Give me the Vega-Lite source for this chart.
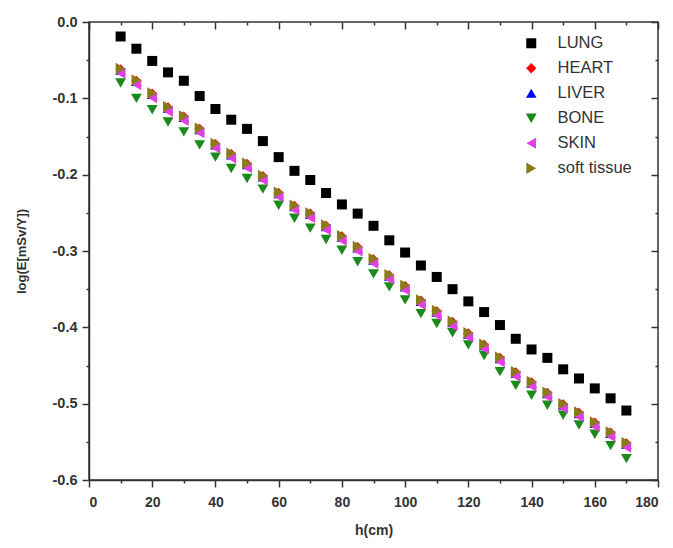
{
  "$schema": "https://vega.github.io/schema/vega-lite/v6.json",
  "autosize": "none",
  "width": 569,
  "height": 458,
  "padding": {"left": 89, "top": 22, "right": 15, "bottom": 68},
  "background": "white",
  "config": {
    "view": {"stroke": "#333", "strokeWidth": 1.5},
    "axis": {"labelFont": "Liberation Sans", "titleFont": "Liberation Sans", "labelFontWeight": "bold", "titleFontWeight": "bold", "labelColor": "#333", "titleColor": "#333", "domainColor": "#333", "tickColor": "#333", "grid": false}
  },
  "data": {"values": [
    {"h":10,"organ":"LUNG","v":-0.019},{"h":15,"organ":"LUNG","v":-0.035},{"h":20,"organ":"LUNG","v":-0.051},{"h":25,"organ":"LUNG","v":-0.066},{"h":30,"organ":"LUNG","v":-0.077},{"h":35,"organ":"LUNG","v":-0.097},{"h":40,"organ":"LUNG","v":-0.114},{"h":45,"organ":"LUNG","v":-0.128},{"h":50,"organ":"LUNG","v":-0.140},{"h":55,"organ":"LUNG","v":-0.156},{"h":60,"organ":"LUNG","v":-0.177},{"h":65,"organ":"LUNG","v":-0.195},{"h":70,"organ":"LUNG","v":-0.207},{"h":75,"organ":"LUNG","v":-0.224},{"h":80,"organ":"LUNG","v":-0.239},{"h":85,"organ":"LUNG","v":-0.251},{"h":90,"organ":"LUNG","v":-0.267},{"h":95,"organ":"LUNG","v":-0.286},{"h":100,"organ":"LUNG","v":-0.302},{"h":105,"organ":"LUNG","v":-0.319},{"h":110,"organ":"LUNG","v":-0.334},{"h":115,"organ":"LUNG","v":-0.350},{"h":120,"organ":"LUNG","v":-0.366},{"h":125,"organ":"LUNG","v":-0.380},{"h":130,"organ":"LUNG","v":-0.397},{"h":135,"organ":"LUNG","v":-0.415},{"h":140,"organ":"LUNG","v":-0.429},{"h":145,"organ":"LUNG","v":-0.440},{"h":150,"organ":"LUNG","v":-0.455},{"h":155,"organ":"LUNG","v":-0.467},{"h":160,"organ":"LUNG","v":-0.480},{"h":165,"organ":"LUNG","v":-0.493},{"h":170,"organ":"LUNG","v":-0.509},
    {"h":10,"organ":"HEART","v":-0.062},{"h":15,"organ":"HEART","v":-0.077},{"h":20,"organ":"HEART","v":-0.094},{"h":25,"organ":"HEART","v":-0.112},{"h":30,"organ":"HEART","v":-0.124},{"h":35,"organ":"HEART","v":-0.140},{"h":40,"organ":"HEART","v":-0.160},{"h":45,"organ":"HEART","v":-0.173},{"h":50,"organ":"HEART","v":-0.186},{"h":55,"organ":"HEART","v":-0.202},{"h":60,"organ":"HEART","v":-0.224},{"h":65,"organ":"HEART","v":-0.241},{"h":70,"organ":"HEART","v":-0.251},{"h":75,"organ":"HEART","v":-0.267},{"h":80,"organ":"HEART","v":-0.281},{"h":85,"organ":"HEART","v":-0.295},{"h":90,"organ":"HEART","v":-0.311},{"h":95,"organ":"HEART","v":-0.332},{"h":100,"organ":"HEART","v":-0.346},{"h":105,"organ":"HEART","v":-0.365},{"h":110,"organ":"HEART","v":-0.379},{"h":115,"organ":"HEART","v":-0.393},{"h":120,"organ":"HEART","v":-0.408},{"h":125,"organ":"HEART","v":-0.423},{"h":130,"organ":"HEART","v":-0.440},{"h":135,"organ":"HEART","v":-0.459},{"h":140,"organ":"HEART","v":-0.472},{"h":145,"organ":"HEART","v":-0.486},{"h":150,"organ":"HEART","v":-0.501},{"h":155,"organ":"HEART","v":-0.512},{"h":160,"organ":"HEART","v":-0.525},{"h":165,"organ":"HEART","v":-0.538},{"h":170,"organ":"HEART","v":-0.552},
    {"h":10,"organ":"LIVER","v":-0.063},{"h":15,"organ":"LIVER","v":-0.078},{"h":20,"organ":"LIVER","v":-0.095},{"h":25,"organ":"LIVER","v":-0.113},{"h":30,"organ":"LIVER","v":-0.125},{"h":35,"organ":"LIVER","v":-0.141},{"h":40,"organ":"LIVER","v":-0.161},{"h":45,"organ":"LIVER","v":-0.174},{"h":50,"organ":"LIVER","v":-0.187},{"h":55,"organ":"LIVER","v":-0.203},{"h":60,"organ":"LIVER","v":-0.225},{"h":65,"organ":"LIVER","v":-0.242},{"h":70,"organ":"LIVER","v":-0.252},{"h":75,"organ":"LIVER","v":-0.268},{"h":80,"organ":"LIVER","v":-0.282},{"h":85,"organ":"LIVER","v":-0.296},{"h":90,"organ":"LIVER","v":-0.312},{"h":95,"organ":"LIVER","v":-0.333},{"h":100,"organ":"LIVER","v":-0.347},{"h":105,"organ":"LIVER","v":-0.366},{"h":110,"organ":"LIVER","v":-0.380},{"h":115,"organ":"LIVER","v":-0.394},{"h":120,"organ":"LIVER","v":-0.409},{"h":125,"organ":"LIVER","v":-0.424},{"h":130,"organ":"LIVER","v":-0.441},{"h":135,"organ":"LIVER","v":-0.460},{"h":140,"organ":"LIVER","v":-0.473},{"h":145,"organ":"LIVER","v":-0.487},{"h":150,"organ":"LIVER","v":-0.502},{"h":155,"organ":"LIVER","v":-0.513},{"h":160,"organ":"LIVER","v":-0.526},{"h":165,"organ":"LIVER","v":-0.539},{"h":170,"organ":"LIVER","v":-0.553},
    {"h":10,"organ":"BONE","v":-0.080},{"h":15,"organ":"BONE","v":-0.100},{"h":20,"organ":"BONE","v":-0.115},{"h":25,"organ":"BONE","v":-0.131},{"h":30,"organ":"BONE","v":-0.144},{"h":35,"organ":"BONE","v":-0.161},{"h":40,"organ":"BONE","v":-0.177},{"h":45,"organ":"BONE","v":-0.192},{"h":50,"organ":"BONE","v":-0.205},{"h":55,"organ":"BONE","v":-0.219},{"h":60,"organ":"BONE","v":-0.240},{"h":65,"organ":"BONE","v":-0.257},{"h":70,"organ":"BONE","v":-0.270},{"h":75,"organ":"BONE","v":-0.285},{"h":80,"organ":"BONE","v":-0.299},{"h":85,"organ":"BONE","v":-0.314},{"h":90,"organ":"BONE","v":-0.330},{"h":95,"organ":"BONE","v":-0.347},{"h":100,"organ":"BONE","v":-0.364},{"h":105,"organ":"BONE","v":-0.382},{"h":110,"organ":"BONE","v":-0.395},{"h":115,"organ":"BONE","v":-0.407},{"h":120,"organ":"BONE","v":-0.423},{"h":125,"organ":"BONE","v":-0.437},{"h":130,"organ":"BONE","v":-0.458},{"h":135,"organ":"BONE","v":-0.476},{"h":140,"organ":"BONE","v":-0.489},{"h":145,"organ":"BONE","v":-0.502},{"h":150,"organ":"BONE","v":-0.515},{"h":155,"organ":"BONE","v":-0.528},{"h":160,"organ":"BONE","v":-0.540},{"h":165,"organ":"BONE","v":-0.555},{"h":170,"organ":"BONE","v":-0.572},
    {"h":10,"organ":"SKIN","v":-0.067},{"h":15,"organ":"SKIN","v":-0.082},{"h":20,"organ":"SKIN","v":-0.099},{"h":25,"organ":"SKIN","v":-0.117},{"h":30,"organ":"SKIN","v":-0.129},{"h":35,"organ":"SKIN","v":-0.145},{"h":40,"organ":"SKIN","v":-0.165},{"h":45,"organ":"SKIN","v":-0.178},{"h":50,"organ":"SKIN","v":-0.191},{"h":55,"organ":"SKIN","v":-0.207},{"h":60,"organ":"SKIN","v":-0.229},{"h":65,"organ":"SKIN","v":-0.246},{"h":70,"organ":"SKIN","v":-0.256},{"h":75,"organ":"SKIN","v":-0.272},{"h":80,"organ":"SKIN","v":-0.286},{"h":85,"organ":"SKIN","v":-0.300},{"h":90,"organ":"SKIN","v":-0.316},{"h":95,"organ":"SKIN","v":-0.337},{"h":100,"organ":"SKIN","v":-0.351},{"h":105,"organ":"SKIN","v":-0.370},{"h":110,"organ":"SKIN","v":-0.384},{"h":115,"organ":"SKIN","v":-0.398},{"h":120,"organ":"SKIN","v":-0.413},{"h":125,"organ":"SKIN","v":-0.428},{"h":130,"organ":"SKIN","v":-0.445},{"h":135,"organ":"SKIN","v":-0.464},{"h":140,"organ":"SKIN","v":-0.477},{"h":145,"organ":"SKIN","v":-0.491},{"h":150,"organ":"SKIN","v":-0.506},{"h":155,"organ":"SKIN","v":-0.517},{"h":160,"organ":"SKIN","v":-0.530},{"h":165,"organ":"SKIN","v":-0.543},{"h":170,"organ":"SKIN","v":-0.557},
    {"h":10,"organ":"soft tissue","v":-0.061},{"h":15,"organ":"soft tissue","v":-0.076},{"h":20,"organ":"soft tissue","v":-0.093},{"h":25,"organ":"soft tissue","v":-0.111},{"h":30,"organ":"soft tissue","v":-0.123},{"h":35,"organ":"soft tissue","v":-0.139},{"h":40,"organ":"soft tissue","v":-0.159},{"h":45,"organ":"soft tissue","v":-0.172},{"h":50,"organ":"soft tissue","v":-0.185},{"h":55,"organ":"soft tissue","v":-0.201},{"h":60,"organ":"soft tissue","v":-0.223},{"h":65,"organ":"soft tissue","v":-0.240},{"h":70,"organ":"soft tissue","v":-0.250},{"h":75,"organ":"soft tissue","v":-0.266},{"h":80,"organ":"soft tissue","v":-0.280},{"h":85,"organ":"soft tissue","v":-0.294},{"h":90,"organ":"soft tissue","v":-0.310},{"h":95,"organ":"soft tissue","v":-0.331},{"h":100,"organ":"soft tissue","v":-0.345},{"h":105,"organ":"soft tissue","v":-0.364},{"h":110,"organ":"soft tissue","v":-0.378},{"h":115,"organ":"soft tissue","v":-0.392},{"h":120,"organ":"soft tissue","v":-0.407},{"h":125,"organ":"soft tissue","v":-0.422},{"h":130,"organ":"soft tissue","v":-0.439},{"h":135,"organ":"soft tissue","v":-0.458},{"h":140,"organ":"soft tissue","v":-0.471},{"h":145,"organ":"soft tissue","v":-0.485},{"h":150,"organ":"soft tissue","v":-0.500},{"h":155,"organ":"soft tissue","v":-0.511},{"h":160,"organ":"soft tissue","v":-0.524},{"h":165,"organ":"soft tissue","v":-0.537},{"h":170,"organ":"soft tissue","v":-0.551}
  ]},
  "layer": [
    {
      "mark": {"type": "point", "filled": true, "opacity": 1},
      "encoding": {
        "x": {"field": "h", "type": "quantitative", "scale": {"domain": [0, 180], "nice": false, "zero": false},
          "axis": {"orient": "bottom", "title": "h(cm)", "titleFontSize": 14, "titlePadding": 14, "labelFontSize": 14, "labelPadding": 8,
            "values": [0,10,20,30,40,50,60,70,80,90,100,110,120,130,140,150,160,170,180],
            "labelExpr": "datum.value % 20 === 0 ? datum.label : ''",
            "tickSize": {"condition": {"test": "datum.value % 20 === 0", "value": 7}, "value": 3},
            "tickWidth": 1.5, "domainWidth": 1.5}},
        "y": {"field": "v", "type": "quantitative", "scale": {"domain": [-0.6, 0], "nice": false, "zero": false},
          "axis": {"orient": "left", "title": "log(E[mSv/Y])", "titleFontSize": 13, "titlePadding": 24, "labelFontSize": 14.5, "labelPadding": 5,
            "values": [-0.6,-0.55,-0.5,-0.45,-0.4,-0.35,-0.3,-0.25,-0.2,-0.15,-0.1,-0.05,0],
            "labelExpr": "abs(round(datum.value*10) - datum.value*10) < 0.01 ? replace(format(datum.value, '.1f'), '\u2212', '-') : ''",
            "tickSize": {"condition": {"test": "abs(round(datum.value*10) - datum.value*10) < 0.01", "value": 7}, "value": 3},
            "tickWidth": 1.5, "domainWidth": 1.5}},
        "color": {"field": "organ", "type": "nominal",
          "scale": {"domain": ["LUNG","HEART","LIVER","BONE","SKIN","soft tissue"], "range": ["#000000","#ff0000","#0000ff","#1a8a1a","#e040e0","#8a7a1a"]},
          "legend": {"title": null, "orient": "none", "legendX": 434, "legendY": 13, "labelFont": "Liberation Sans", "labelFontSize": 16.5, "labelColor": "#333", "rowPadding": 8, "labelOffset": 18, "symbolStrokeWidth": 0}},
        "shape": {"field": "organ", "type": "nominal",
          "scale": {"domain": ["LUNG","HEART","LIVER","BONE","SKIN","soft tissue"], "range": ["square","diamond","triangle-up","triangle-down","triangle-left","triangle-right"]},
          "legend": null},
        "size": {"field": "organ", "type": "nominal",
          "scale": {"domain": ["LUNG","HEART","LIVER","BONE","SKIN","soft tissue"], "range": [100, 130, 150, 150, 150, 150]},
          "legend": null}
      }
    },
    {
      "mark": {"type": "point", "opacity": 0},
      "encoding": {
        "x": {"field": "h", "type": "quantitative",
          "axis": {"orient": "top", "title": null, "labels": false, "domain": false,
            "values": [0,10,20,30,40,50,60,70,80,90,100,110,120,130,140,150,160,170,180],
            "tickSize": {"condition": {"test": "datum.value % 20 === 0", "value": -7}, "value": -3}, "tickWidth": 1.5}},
        "y": {"field": "v", "type": "quantitative",
          "axis": {"orient": "right", "title": null, "labels": false, "domain": false,
            "values": [-0.6,-0.55,-0.5,-0.45,-0.4,-0.35,-0.3,-0.25,-0.2,-0.15,-0.1,-0.05,0],
            "tickSize": {"condition": {"test": "abs(round(datum.value*10) - datum.value*10) < 0.01", "value": -7}, "value": -3}, "tickWidth": 1.5}}
      }
    }
  ],
  "resolve": {"axis": {"x": "independent", "y": "independent"}}
}
